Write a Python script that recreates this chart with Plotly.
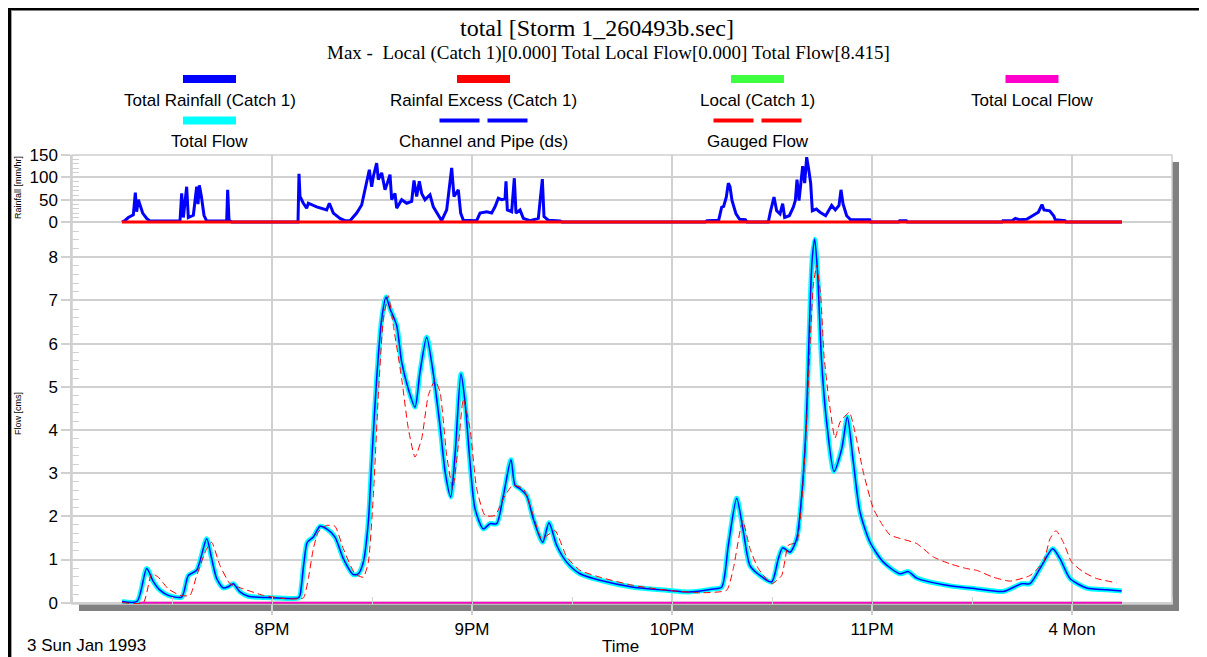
import pandas as pd
import plotly.graph_objects as go

# ---------------- data (minutes after 19:00, 3 Jan 1993) ----------------
BASE = pd.Timestamp("1993-01-03 19:00")

rain_t = [15, 16, 16.9, 18.4, 19.0, 19.4, 19.9, 20.4, 21.2, 22.4, 23.4, 32.4, 32.9, 33.4, 34.4, 34.9,
          36.4, 37.4, 37.8, 38.2, 38.8, 39.6, 40.4, 46.4, 46.7, 47.1, 47.9, 67.8, 68.1, 68.4, 69.4,
          70.4, 70.9, 73.4, 76.4, 77.2, 78.4, 80.4, 81.9, 83.4, 85.4, 86.9, 87.9, 88.4, 89.2, 89.9,
          90.4, 91.4, 91.9, 92.9, 93.9, 94.6, 95.4, 95.9, 96.9, 97.4, 98.9, 100.4, 101.9, 102.6,
          103.4, 104.2, 104.9, 105.9, 107.4, 108.4, 109.9, 110.9, 112.4, 113.4, 113.9, 114.6, 115.9,
          116.6, 117.4, 121.4, 122.4, 124.4, 125.9, 126.9, 127.9, 128.9, 129.9, 130.2, 130.6, 131.9,
          132.7, 133.2, 134.4, 135.4, 137.4, 139.9, 141.1, 141.6, 142.9, 146.4, 147, 190, 190.5, 194,
          194.9, 195.5, 196.3, 196.9, 197.4, 198, 198.6, 199.2, 200.3, 202, 202.5, 208.9, 209.5,
          210.6, 211.4, 212.4, 213.2, 213.8, 215.2, 216.4, 217, 217.5, 218.1, 218.9, 219.2, 219.8,
          220.4, 221, 221.6, 222.1, 223.3, 224.4, 226.1, 227.9, 229, 230.1, 230.7, 231.3, 232.4,
          233.6, 239.3, 239.6, 248, 248.3, 250.3, 250.6, 279, 279.3, 282, 283, 284.2, 286.4, 288.2,
          289.9, 291, 291.6, 293.3, 294.5, 295, 297.9, 298.2, 315]
rain_v = [0, 4, 10, 16, 66, 23, 50, 38, 20, 8, 2, 2, 64, 10, 79, 10,
          15, 79, 40, 82, 58, 15, 2, 2, 72, 4, 0, 0, 108, 57, 42,
          31, 42, 34, 27, 42, 20, 8, 3, 3, 20, 38, 72, 87, 117, 79,
          102, 132, 95, 110, 72, 87, 106, 50, 64, 31, 50, 42, 46, 93,
          57, 91, 64, 50, 61, 34, 16, 3, 27, 95, 121, 57, 72,
          20, 4, 3, 20, 23, 20, 34, 53, 50, 52, 91, 27, 23,
          98, 20, 27, 8, 3, 8, 96, 12, 4, 2, 0, 0, 3, 4,
          33, 35, 56, 87, 79, 48, 33, 18, 6, 5, 0, 0, 22,
          56, 25, 18, 41, 10, 14, 33, 48, 95, 48, 110, 125, 87,
          145, 118, 87, 25, 29, 22, 14, 37, 27, 37, 72, 41, 14,
          5, 5, 0, 0, 3, 3, 0, 0, 3, 3, 8, 5, 6, 14,
          22, 39, 27, 25, 14, 5, 3, 0, 0]

excess_t = [15, 315]
excess_v = [0, 0]

local_t = [15, 315]
local_v = [0, 0]
total_local_t = [15, 315]
total_local_v = [0, 0]

flow_t = [15, 19.5, 22.4, 24.4, 26.4, 28.9, 32.9, 34.9, 37.4, 40.4, 41.9, 43.4, 45.4, 46.9, 48.4,
          50.4, 52.9, 58.4, 67.9, 68.4, 69.6, 70.6, 72.4, 74.4, 76.4, 78.9, 81.4, 84.4, 85.9, 87.4,
          88.9, 89.9, 91.4, 92.9, 94.2, 95.4, 97.4, 98.9, 100.9, 102.9, 104.4, 106.4, 108.4, 110.4,
          112.0, 113.6, 114.9, 116.7, 117.9, 119.4, 120.9, 123.4, 125.4, 127.4, 129.4, 131.7, 132.9,
          134.4, 136.4, 138.4, 141.2, 143.1, 145.4, 148.4, 152.4, 158.4, 168.4, 178.4, 184.9, 192.4,
          194.9, 196.9, 199.4, 201.4, 203.4, 206.4, 209.9, 211.9, 213.2, 215.4, 217.4, 218.9, 220.2,
          221.2, 222.0, 222.8, 223.6, 224.9, 226.4, 228.6, 230.9, 232.6, 234.4, 236.4, 239.4, 243.4,
          248.4, 250.9, 253.4, 263.4, 271.4, 279.4, 284.9, 287.4, 290.9, 294.2, 296.4, 299.4, 304.4,
          310.4, 314.9]
flow_v = [0.03, 0.03, 0.79, 0.49, 0.29, 0.17, 0.13, 0.63, 0.75, 1.48, 1.02, 0.56, 0.34, 0.37, 0.44,
          0.25, 0.15, 0.12, 0.11, 0.17, 0.94, 1.40, 1.52, 1.77, 1.71, 1.52, 1.02, 0.65, 0.67, 0.94,
          1.87, 3.26, 5.19, 6.57, 7.08, 6.81, 6.42, 5.57, 4.95, 4.53, 5.34, 6.15, 5.30, 4.10,
          3.00, 2.45, 3.41, 5.30, 4.65, 3.26, 2.18, 1.71, 1.83, 1.83, 2.48, 3.31, 2.72,
          2.64, 2.48, 1.94, 1.40, 1.85, 1.33, 0.94, 0.67, 0.52, 0.36, 0.29, 0.25, 0.32,
          0.36, 1.33, 2.42, 1.65, 0.86, 0.63, 0.48, 1.02, 1.27, 1.17, 1.48, 2.48, 4.03,
          6.34, 7.89, 8.415, 7.73, 5.57, 4.18, 3.04, 3.56, 4.30, 3.26, 2.10, 1.40, 0.94,
          0.67, 0.72, 0.57, 0.39, 0.32, 0.26, 0.44, 0.44, 0.86, 1.25, 1.02, 0.56, 0.34,
          0.30, 0.27]

gauged_t = [15, 21.4, 23.9, 25.9, 28.9, 32.4, 35.4, 37.4, 40.4, 41.9, 44.4, 47.4, 51.4, 57.4, 64.4,
            69.4, 70.9, 72.4, 73.9, 76.4, 78.9, 81.4, 84.9, 87.4, 88.9, 90.4, 91.9, 93.4, 94.9, 96.4,
            98.9, 100.9, 102.9, 104.9, 106.9, 108.9, 110.4, 112.4, 114.2, 115.9, 117.4, 119.4, 121.4,
            123.9, 126.9, 129.4, 132.2, 135.4, 138.4, 140.9, 144.9, 148.4, 152.4, 158.4, 168.4, 178.4,
            188.4, 196.4, 198.4, 201.2, 203.4, 205.9, 209.9, 212.9, 214.9, 217.4, 218.9, 220.2, 221.4,
            222.4, 223.4, 224.6, 225.6, 226.9, 228.9, 230.4, 233.2, 234.9, 237.4, 240.4, 242.9, 245.4,
            253.4, 258.4, 263.4, 268.4, 271.4, 276.4, 281.4, 287.4, 291.4, 293.4, 295.2, 297.4, 299.9,
            303.4, 307.4, 313.4]
gauged_v = [0.0, 0.0, 0.67, 0.59, 0.32, 0.17, 0.17, 0.63, 1.25, 1.40, 0.86, 0.44, 0.32, 0.17, 0.09,
            0.11, 0.56, 1.25, 1.64, 1.79, 1.77, 1.25, 0.67, 0.59, 0.94, 2.48, 4.80, 6.57, 7.11, 6.42,
            5.19, 4.03, 3.37, 3.80, 4.80, 5.15, 4.88, 3.41, 2.64, 3.64, 4.72, 4.03, 2.64,
            2.02, 2.02, 2.41, 2.72, 2.64, 2.02, 1.48, 1.67, 1.06, 0.75, 0.59, 0.40, 0.29,
            0.23, 0.29, 0.79, 1.90, 1.25, 0.79, 0.44, 0.63, 1.33, 1.40, 2.33, 3.87, 5.96,
            7.35, 7.81, 7.11, 5.73, 4.80, 3.81, 4.18, 4.41, 3.95, 3.02, 2.18, 1.83, 1.57,
            1.37, 1.06, 0.90, 0.79, 0.75, 0.59, 0.50, 0.63, 0.94, 1.48, 1.67, 1.40, 0.94,
            0.71, 0.56, 0.46]

tick_minutes = [60, 120, 180, 240, 300]
tick_labels = ["8PM", "9PM", "10PM", "11PM", "4 Mon"]

rain_ticks = [0, 50, 100, 150]
flow_ticks = [0, 1, 2, 3, 4, 5, 6, 7, 8]

title_text = "total [Storm 1_260493b.sec]"
subtitle_text = "Max -  Local (Catch 1)[0.000] Total Local Flow[0.000] Total Flow[8.415]"


def to_time(mins):
    return list(BASE + pd.to_timedelta(mins, unit="m"))


# ---------------- layout helpers (screen pixel coordinates) ----------------
W, H = 1207, 657
OFF = 8                                   # page body margin around the plot div
L, R, T, B = 72, 1172, 155, 604           # plot area in screen pixels
SPLIT = 224                               # boundary between rainfall and flow panels


def px(x):
    return (x - L) / (R - L)


def py(y):
    return (B - y) / (B - T)


GRID = "#d0d0d0"
ARIAL = "Arial, Liberation Sans, sans-serif"
TIMES = "Times New Roman, Liberation Serif, serif"
FS = 17

fig = go.Figure()

# rainfall panel
fig.add_trace(go.Scatter(x=to_time(rain_t), y=rain_v, yaxis="y2", mode="lines",
                         line=dict(color="#0000FF", width=3), name="Total Rainfall (Catch 1)"))
fig.add_trace(go.Scatter(x=to_time(excess_t), y=excess_v, yaxis="y2", mode="lines",
                         line=dict(color="#FF0000", width=3), name="Rainfal Excess (Catch 1)"))
# flow panel
fig.add_trace(go.Scatter(x=to_time(local_t), y=local_v, mode="lines",
                         line=dict(color="#40FF40", width=2), name="Local (Catch 1)"))
fig.add_trace(go.Scatter(x=to_time(total_local_t), y=total_local_v, mode="lines",
                         line=dict(color="#FF00CC", width=2), name="Total Local Flow"))
fig.add_trace(go.Scatter(x=to_time(flow_t), y=flow_v, mode="lines",
                         line=dict(color="#00FFFF", width=5, shape="spline", smoothing=0.7),
                         name="Total Flow"))
fig.add_trace(go.Scatter(x=to_time(flow_t), y=flow_v, mode="lines",
                         line=dict(color="#0000FF", width=1.5, shape="spline", smoothing=0.7),
                         name="Channel and Pipe (ds)"))
fig.add_trace(go.Scatter(x=to_time(gauged_t), y=gauged_v, mode="lines",
                         line=dict(color="#FF0000", width=1, dash="7px,4px", shape="spline",
                                   smoothing=0.5),
                         name="Gauged Flow"))

dsplit = py(SPLIT)
fig.update_layout(
    width=W - OFF, height=H - OFF,
    margin=dict(l=L - OFF, r=W - R, t=T - OFF, b=H - B, pad=0),
    paper_bgcolor="white", plot_bgcolor="rgba(0,0,0,0)",
    showlegend=False,
    font=dict(family=ARIAL, size=FS, color="black"),
    xaxis=dict(type="date", range=[BASE, BASE + pd.Timedelta(minutes=330)],
               tickvals=to_time(tick_minutes), ticktext=tick_labels,
               ticks="outside", ticklen=10, tickcolor=GRID, tickwidth=1.5,
               showgrid=True, gridcolor=GRID, gridwidth=1.5, zeroline=False, showline=False,
               tickfont=dict(family=ARIAL, size=FS, color="black"),
               minor=dict(ticks="inside", ticklen=7, tickcolor=GRID, tickwidth=1,
                          tick0=BASE, dtick=30 * 60 * 1000, showgrid=False),
               anchor="y"),
    yaxis=dict(domain=[0, dsplit], range=[-0.03, 8.77], tickvals=flow_ticks,
               ticks="outside", ticklen=9, tickcolor=GRID, tickwidth=1.5,
               showgrid=True, gridcolor=GRID, gridwidth=1.5, zeroline=False,
               showline=True, linecolor=GRID, linewidth=1.5,
               tickfont=dict(family=ARIAL, size=FS, color="black"),
               minor=dict(ticks="inside", ticklen=7, tickcolor=GRID, tickwidth=1, dtick=0.2,
                          showgrid=False),
               anchor="x"),
    yaxis2=dict(domain=[dsplit, 1], range=[-4.5, 150], tickvals=rain_ticks,
                ticks="outside", ticklen=9, tickcolor=GRID, tickwidth=1.5,
                showgrid=True, gridcolor=GRID, gridwidth=1.5, zeroline=False,
                showline=True, linecolor=GRID, linewidth=1.5,
                tickfont=dict(family=ARIAL, size=FS, color="black"),
                minor=dict(ticks="inside", ticklen=7, tickcolor=GRID, tickwidth=1, dtick=10,
                           showgrid=False),
                anchor="x"),
)

shapes = []
# drop shadow and white plot area
shapes.append(dict(type="rect", xref="paper", yref="paper", layer="below",
                   x0=px(L + 7), x1=px(R + 7), y0=py(B + 7), y1=py(T + 7),
                   fillcolor="#808080", line=dict(width=0)))
shapes.append(dict(type="rect", xref="paper", yref="paper", layer="below",
                   x0=0, x1=1, y0=0, y1=1,
                   fillcolor="white", line=dict(color=GRID, width=1.5)))
# outer frame
shapes.append(dict(type="line", xref="paper", yref="paper", x0=px(OFF), x1=px(W), y0=py(9), y1=py(9),
                   line=dict(color="black", width=3)))
shapes.append(dict(type="line", xref="paper", yref="paper", x0=px(OFF + 1.5), x1=px(OFF + 1.5),
                   y0=py(8), y1=py(H), line=dict(color="black", width=3)))
shapes.append(dict(type="line", xref="paper", yref="paper", x0=px(OFF + 3.5), x1=px(OFF + 3.5),
                   y0=py(10.5), y1=py(H), line=dict(color="#a0a0a0", width=1)))

annotations = []
annotations.append(dict(text=title_text, x=px(597), y=py(28), xref="paper", yref="paper",
                        showarrow=False, xanchor="center", yanchor="middle",
                        font=dict(family=TIMES, size=24, color="black")))
annotations.append(dict(text=subtitle_text, x=px(608), y=py(53), xref="paper", yref="paper",
                        showarrow=False, xanchor="center", yanchor="middle",
                        font=dict(family=TIMES, size=19, color="black")))

# legend (4 columns, swatch above label)
legend_items = [
    ("Total Rainfall (Catch 1)", "#0000FF", "solid", 209.5, 0),
    ("Rainfal Excess (Catch 1)", "#FF0000", "solid", 483.5, 0),
    ("Local (Catch 1)", "#40FF40", "solid", 757.5, 0),
    ("Total Local Flow", "#FF00CC", "solid", 1032, 0),
    ("Total Flow", "#00FFFF", "solid", 209.5, 1),
    ("Channel and Pipe (ds)", "#0000FF", "dash", 483.5, 1),
    ("Gauged Flow", "#FF0000", "dash", 757.5, 1),
]
row_sw = [79, 120.5]
row_tx = [100.5, 141.5]
for label, col, style, cx, row in legend_items:
    sy = row_sw[row]
    if style == "solid":
        shapes.append(dict(type="rect", xref="paper", yref="paper",
                           x0=px(cx - 26.5), x1=px(cx + 26.5), y0=py(sy + 4), y1=py(sy - 4),
                           fillcolor=col, line=dict(width=0)))
    else:
        for a, b in [(cx - 44, cx - 4), (cx + 4, cx + 44)]:
            shapes.append(dict(type="rect", xref="paper", yref="paper",
                               x0=px(a), x1=px(b), y0=py(sy + 2), y1=py(sy - 2),
                               fillcolor=col, line=dict(width=0)))
    annotations.append(dict(text=label, x=px(cx), y=py(row_tx[row]), xref="paper", yref="paper",
                            showarrow=False, xanchor="center", yanchor="middle",
                            font=dict(family=ARIAL, size=FS, color="black")))

# axis titles and footer texts
annotations.append(dict(text="Rainfall [mm/hr]", x=px(18), y=py(188), xref="paper", yref="paper",
                        showarrow=False, textangle=-90, xanchor="center", yanchor="middle",
                        font=dict(family=ARIAL, size=9, color="black")))
annotations.append(dict(text="Flow [cms]", x=px(18), y=py(414), xref="paper", yref="paper",
                        showarrow=False, textangle=-90, xanchor="center", yanchor="middle",
                        font=dict(family=ARIAL, size=9, color="black")))
annotations.append(dict(text="Time", x=px(600), y=py(646), xref="paper", yref="paper",
                        showarrow=False, xanchor="left", yanchor="middle",
                        font=dict(family=ARIAL, size=FS, color="black")))
annotations.append(dict(text="3 Sun Jan 1993", x=px(25), y=py(645), xref="paper", yref="paper",
                        showarrow=False, xanchor="left", yanchor="middle",
                        font=dict(family=ARIAL, size=FS, color="black")))

fig.update_layout(shapes=shapes, annotations=annotations)

fig.write_html("out.html", config={"displayModeBar": False})
